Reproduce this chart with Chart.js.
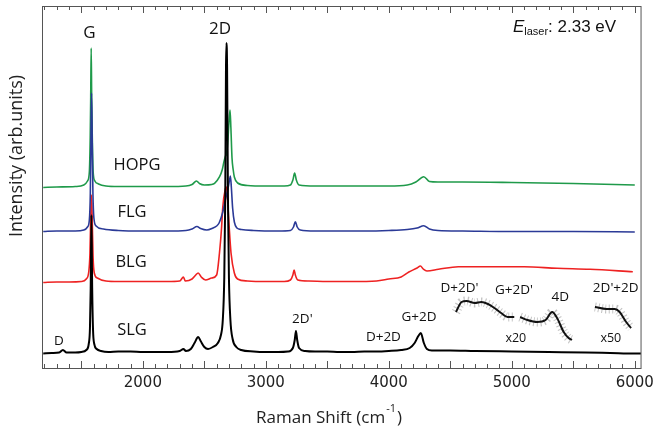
<!DOCTYPE html>
<html>
<head>
<meta charset="utf-8">
<script src="https://cdn.jsdelivr.net/npm/chart.js@4/dist/chart.umd.min.js"></script>
<style>
  html, body { margin: 0; padding: 0; background: #fff; }
  #wrap { width: 660px; height: 433px; }
</style>
</head>
<body>
<div id="wrap"><canvas id="chart" width="660" height="433"></canvas></div>
<script>
// Raman shift (cm-1) / intensity (arb. units, offset traces)
const slgShift = [1190, 1260, 1320, 1350, 1380, 1450, 1500, 1540, 1560, 1570, 1576, 1582, 1588, 1595, 1605, 1625, 1660, 1720, 1800, 1900, 2000, 2100, 2200, 2300, 2330, 2350, 2390, 2420, 2450, 2470, 2500, 2530, 2570, 2610, 2635, 2650, 2662, 2670, 2676, 2680, 2685, 2692, 2700, 2712, 2730, 2760, 2800, 2900, 3000, 3100, 3180, 3220, 3235, 3245, 3255, 3270, 3320, 3400, 3500, 3600, 3700, 3800, 3900, 4000, 4100, 4170, 4210, 4240, 4260, 4285, 4310, 4350, 4500, 4700, 5000, 5300, 5600, 5800, 6000, 6050];
const slgInt = [14.5, 15, 15.5, 18, 15.5, 15.5, 16, 18, 24, 40, 80, 153, 80, 38, 24, 19, 17, 16, 16.5, 16.5, 16, 16, 16, 17, 19, 17, 19, 25, 31, 27, 21, 19, 21, 25, 33, 48, 90, 170, 300, 325, 300, 170, 90, 48, 29, 21, 18, 16.5, 16, 16, 16.5, 20, 28, 37, 28, 20, 17, 16.5, 16.5, 16, 16, 16.5, 16.5, 17, 18, 20, 25, 32, 35, 25, 19, 17.5, 17.5, 17, 16.5, 16, 15.5, 15, 14.5, 14.5];

// magnified overtone region (x20 / x50)
const zoomShift = [4546, 4592, 4632, 4699, 4752, 4806, 4859, 4913, 4966, 5020, null, 5068, 5127, 5207, 5275, 5328, 5368, 5422, 5462, 5489, null, 5676, 5770, 5837, 5877, 5930, 5970];
const zoomInt = [56, 66, 67, 65, 66, 64, 60, 55, 51, 51, null, 51, 48, 46, 48, 56, 50, 36, 30, 28, null, 61, 59, 59, 56, 46, 40];

const blgShift = [1190, 1300, 1400, 1500, 1540, 1560, 1570, 1576, 1582, 1588, 1595, 1605, 1630, 1700, 1800, 2000, 2200, 2300, 2330, 2345, 2400, 2430, 2450, 2475, 2510, 2560, 2600, 2623, 2640, 2650, 2669, 2680, 2688, 2700, 2717, 2744, 2770, 2850, 3000, 3150, 3200, 3220, 3230, 3240, 3260, 3350, 3500, 3700, 3900, 4000, 4100, 4163, 4230, 4257, 4280, 4310, 4404, 4565, 4831, 5100, 5368, 5636, 5984];
const blgInt = [85.5, 86, 86, 86.5, 89, 96, 115, 150, 173, 150, 112, 95, 90, 87, 86.5, 86.5, 86.5, 87, 91, 87, 89, 93, 95, 91, 88, 90, 93, 115, 140, 161, 178, 181, 170, 145, 115, 95, 89, 87, 86.5, 86.5, 88, 93, 98, 93, 88, 87, 86.5, 86.5, 87, 89, 91, 96, 100, 102, 99, 97, 98.7, 101.3, 101.3, 101.3, 99.7, 98.7, 96.3];

const flgShift = [1190, 1300, 1450, 1520, 1550, 1565, 1573, 1578, 1583, 1588, 1594, 1602, 1620, 1680, 1800, 2000, 2200, 2350, 2400, 2440, 2470, 2520, 2570, 2600, 2620, 2650, 2670, 2690, 2705, 2712, 2720, 2730, 2744, 2765, 2800, 2900, 3100, 3200, 3225, 3240, 3255, 3280, 3400, 3600, 3800, 4000, 4150, 4230, 4284, 4330, 4400, 4600, 5000, 5500, 6000];
const flgInt = [136.5, 137, 137, 138, 141, 148, 175, 230, 275, 230, 175, 150, 142, 139, 137.5, 137, 137, 137.5, 139, 141.5, 139.5, 138, 140, 142, 145, 156, 168, 178, 188, 192, 180, 160, 146, 140, 138.5, 137.5, 137, 137.5, 141, 146.3, 141, 138, 137, 137, 137, 137.5, 138.5, 140, 142.3, 139, 137.5, 137, 136.5, 136.5, 136];

const hopgShift = [1190, 1300, 1450, 1520, 1550, 1565, 1572, 1576, 1580, 1584, 1589, 1596, 1610, 1640, 1700, 1800, 2000, 2200, 2350, 2400, 2436, 2460, 2500, 2560, 2583, 2624, 2645, 2659, 2672, 2680, 2690, 2700, 2709, 2716, 2725, 2735, 2744, 2771, 2850, 3000, 3150, 3200, 3220, 3234, 3248, 3270, 3400, 3600, 3800, 4000, 4150, 4220, 4284, 4330, 4400, 4600, 5000, 5500, 6000];
const hopgInt = [180.5, 181, 181.5, 183, 187, 196, 230, 270, 320, 270, 230, 196, 187, 184, 182, 181.5, 181.5, 181.5, 182, 183.5, 187, 184.5, 183, 183.5, 184.7, 191.3, 198, 206, 212, 214, 225, 245, 258, 240, 210, 198, 191, 185, 182.5, 182, 182, 183, 188, 195, 188, 183, 182, 182, 182, 182, 183, 186, 191.3, 186.5, 186, 186, 185.5, 184.5, 183];

const xTickValues = [1200, 1300, 1400, 1500, 1600, 1700, 1800, 1900, 2000, 2100, 2200, 2300, 2400, 2500, 2600, 2700, 2800, 2900, 3000, 3100, 3200, 3300, 3400, 3500, 3600, 3700, 3800, 3900, 4000, 4100, 4200, 4300, 4400, 4500, 4600, 4700, 4800, 4900, 5000, 5100, 5200, 5300, 5400, 5500, 5600, 5700, 5800, 5900, 6000];

// peak / sample labels: [text, shift, intensity, font size]
const peakLabels = [
  ['G', 1566, 335, 17], ['2D', 2628, 339, 17],
  ['HOPG', 1952, 203, 16.5], ['FLG', 1912, 156, 16.5], ['BLG', 1904, 106, 16.5], ['SLG', 1912, 38, 16.5],
  ['D', 1317, 27, 13.5], ["2D'", 3297, 49, 13.5], ['D+2D', 3956, 31, 13.5], ['G+2D', 4245, 51, 13.5],
  ["D+2D'", 4575, 80, 13.5], ["G+2D'", 5017, 78, 13.5], ['4D', 5395, 71, 13.5], ["2D'+2D", 5845, 80, 13.5],
  ['x20', 5033, 30, 12.5], ['x50', 5805, 30, 12.5],
];

const toPoints = (xs, ys) => xs.map((x, i) => ({ x: x, y: ys[i] }));

const frameTicks = {
  id: 'frameTicks',
  afterDatasetsDraw(chart) {
    const { ctx, chartArea: a, scales } = chart;
    const xs = scales.x;
    ctx.save();
    ctx.strokeStyle = '#555';
    ctx.lineWidth = 1;
    ctx.strokeRect(a.left + 0.5, a.top + 0.5, a.right - a.left - 1, a.bottom - a.top);
    xTickValues.forEach((v) => {
      const px = Math.round(xs.getPixelForValue(v)) + 0.5;
      const len = v % 500 === 0 ? 7 : 4;
      ctx.beginPath();
      ctx.moveTo(px, a.bottom);
      ctx.lineTo(px, a.bottom - len);
      ctx.moveTo(px, a.top);
      ctx.lineTo(px, a.top + len);
      ctx.stroke();
    });

    ctx.fillStyle = '#111';
    ctx.textAlign = 'center';
    ctx.textBaseline = 'middle';
    peakLabels.forEach(([t, x, y, size]) => {
      ctx.font = size + 'px "Open Sans", sans-serif';
      ctx.fillText(t, xs.getPixelForValue(x), scales.y.getPixelForValue(y));
    });

    // E_laser: 2.33 eV
    let lx = xs.getPixelForValue(5009);
    const ly = scales.y.getPixelForValue(341);
    ctx.textAlign = 'left';
    ctx.font = 'italic 17px "Liberation Sans", sans-serif';
    ctx.fillText('E', lx, ly);
    lx += ctx.measureText('E').width;
    ctx.font = '11px "Liberation Sans", sans-serif';
    ctx.fillText('laser', lx, ly + 5);
    lx += ctx.measureText('laser').width;
    ctx.font = '17px "Liberation Sans", sans-serif';
    ctx.fillText(': 2.33 eV', lx, ly);

    // axis titles
    ctx.fillStyle = '#222';
    const main = '17px "Open Sans", sans-serif';
    const sup = '11px "Open Sans", sans-serif';
    ctx.font = main;
    const w1 = ctx.measureText('Raman Shift (cm').width;
    const w3 = ctx.measureText(')').width;
    ctx.font = sup;
    const w2 = ctx.measureText('-1').width + 2;
    let tx = 329 - (w1 + w2 + w3) / 2;
    const ty = 418;
    ctx.font = main;
    ctx.fillText('Raman Shift (cm', tx, ty);
    tx += w1;
    ctx.font = sup;
    ctx.fillText('-1', tx + 1, ty - 9);
    tx += w2;
    ctx.font = main;
    ctx.fillText(')', tx, ty);

    ctx.translate(17, 156);
    ctx.rotate(-Math.PI / 2);
    ctx.textAlign = 'center';
    ctx.font = '18px "Open Sans", sans-serif';
    ctx.fillText('Intensity (arb.units)', 0, 0);
    ctx.restore();
  },
};

const lineSet = (label, xs, ys, color, width) => ({
  label,
  data: toPoints(xs, ys),
  borderColor: color,
  borderWidth: width,
  pointRadius: 0,
  cubicInterpolationMode: 'monotone',
  spanGaps: false,
});

new Chart(document.getElementById('chart'), {
  type: 'line',
  data: {
    datasets: [
      lineSet('SLG x20', zoomShift, zoomInt, '#111', 2),
      lineSet('SLG', slgShift, slgInt, '#000', 2),
      lineSet('FLG', flgShift, flgInt, '#2b3a97', 1.6),
      lineSet('BLG', blgShift, blgInt, '#ee2222', 1.6),
      lineSet('HOPG', hopgShift, hopgInt, '#1f9a4a', 1.6),
      Object.assign(lineSet('noise', zoomShift, zoomInt, 'rgba(125,125,125,0.45)', 9), { borderDash: [1, 2.5] }),
    ],
  },
  options: {
    responsive: false,
    animation: false,
    layout: { padding: { left: 0, right: 12, top: 6, bottom: 0 } },
    plugins: { legend: { display: false }, tooltip: { enabled: false } },
    scales: {
      x: {
        type: 'linear',
        min: 1180,
        max: 6055,
        afterBuildTicks: (s) => { s.ticks = xTickValues.filter((v) => v % 1000 === 0).map((v) => ({ value: v })); },
        afterFit: (s) => { s.height = 65; },
        ticks: {
          color: '#222',
          padding: 6,
          font: { family: '"DejaVu Sans", sans-serif', size: 15 },
          callback: (v) => String(v),
          maxRotation: 0,
        },
        grid: { display: false, drawTicks: false },
        border: { display: false },
      },
      y: {
        min: 0,
        max: 362,
        afterFit: (s) => { s.width = 42; },
        ticks: { display: false },
        grid: { display: false, drawTicks: false },
        border: { display: false },
      },
    },
  },
  plugins: [frameTicks],
});
</script>
</body>
</html>
